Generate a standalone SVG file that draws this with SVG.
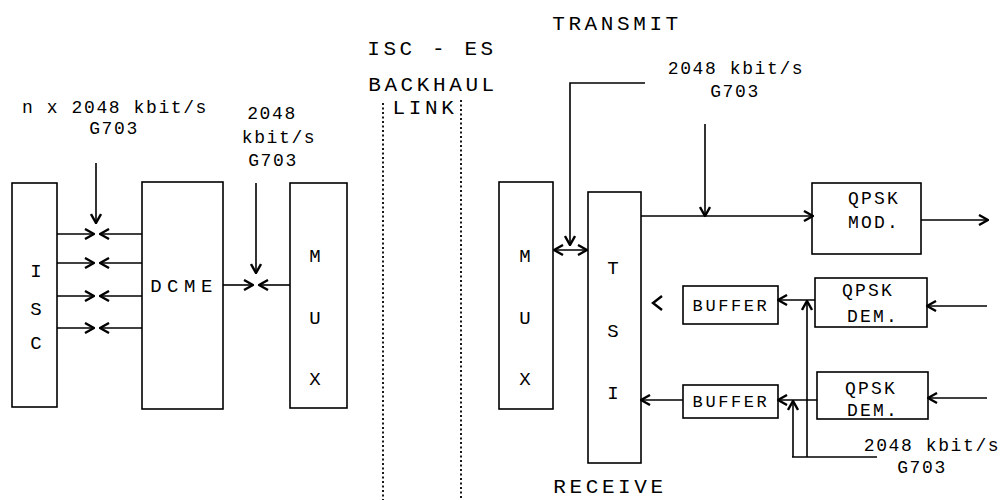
<svg xmlns="http://www.w3.org/2000/svg" width="1006" height="500" viewBox="0 0 1006 500">
<style>
text{font-family:"Liberation Mono","DejaVu Sans Mono",monospace;fill:#000;text-anchor:middle}
.s{font-size:18px;letter-spacing:1.6px}
.L{font-size:21px;letter-spacing:3.6px}
.b{font-size:19px}
.buf{font-size:17px;letter-spacing:2.6px}
.q{font-size:18px;letter-spacing:2.2px}
rect{fill:#fff;stroke:#000;stroke-width:1.6}
.c path{fill:none;stroke:#000;stroke-width:1.6}
.dot{fill:none;stroke:#000;stroke-width:1.8;stroke-dasharray:2 2.5}
</style>
<defs>
<marker id="a" viewBox="0 0 12 12" refX="11" refY="6" markerWidth="12" markerHeight="12" orient="auto-start-reverse" markerUnits="userSpaceOnUse">
<path d="M2,1 L11,6 L2,11" fill="none" stroke="#000" stroke-width="2.4"/>
</marker>
</defs>
<rect width="1006" height="500" style="fill:#fff;stroke:none"/>

<g id="labels">
<text class="s" x="115" y="113">n x 2048 kbit/s</text>
<text class="s" x="114" y="134">G703</text>
<text class="s" x="272" y="119">2048</text>
<text class="s" x="279" y="143">kbit/s</text>
<text class="s" x="273" y="166">G703</text>
<text class="L" x="432" y="55">ISC - ES</text>
<text class="L" x="433" y="91">BACKHAUL</text>
<text class="L" x="425" y="114">LINK</text>
<text class="L" x="617" y="30">TRANSMIT</text>
<text class="L" x="610" y="493">RECEIVE</text>
<text class="s" x="736" y="74">2048 kbit/s</text>
<text class="s" x="735" y="97">G703</text>
<text class="s" x="932" y="451">2048 kbit/s</text>
<text class="s" x="922" y="473">G703</text>
</g>

<g id="boundary">
<path class="dot" d="M383,103 V500"/>
<path class="dot" d="M461,100 V500"/>
</g>

<g id="isc"><rect x="12" y="183" width="45" height="224"/>
<text class="b" x="36" y="277">I</text><text class="b" x="36" y="315">S</text><text class="b" x="36" y="349">C</text></g>
<g id="dcme"><rect x="142" y="182" width="81" height="227"/>
<text class="b" x="184" y="292" style="letter-spacing:5.5px">DCME</text></g>
<g id="mux1"><rect x="290" y="183" width="57" height="225"/>
<text class="b" x="315" y="262">M</text><text class="b" x="315" y="324">U</text><text class="b" x="315" y="385">X</text></g>
<g id="mux2"><rect x="499" y="182" width="54" height="227"/>
<text class="b" x="525" y="262">M</text><text class="b" x="525" y="324">U</text><text class="b" x="525" y="385">X</text></g>
<g id="tsi"><rect x="588" y="192" width="53" height="271"/>
<text class="b" x="613" y="274">T</text><text class="b" x="613" y="337">S</text><text class="b" x="613" y="399">I</text></g>
<g id="buffer1"><rect x="683" y="286" width="95" height="38"/>
<text class="buf" x="731" y="311">BUFFER</text></g>
<g id="buffer2"><rect x="683" y="385" width="95" height="33"/>
<text class="buf" x="731" y="407">BUFFER</text></g>
<g id="qpskmod"><rect x="812" y="183" width="109" height="71"/>
<text class="q" x="874" y="204">QPSK</text><text class="q" x="874" y="228">MOD.</text></g>
<g id="qpskdem1"><rect x="815" y="278" width="112" height="49"/>
<text class="q" x="868" y="296">QPSK</text><text class="q" x="873" y="322">DEM.</text></g>
<g id="qpskdem2"><rect x="817" y="372" width="111" height="47"/>
<text class="q" x="871" y="394">QPSK</text><text class="q" x="873" y="416">DEM.</text></g>

<g id="connectors" class="c">
<path d="M57,234 H94" marker-end="url(#a)"/>
<path d="M142,234 H100" marker-end="url(#a)"/>
<path d="M57,263 H94" marker-end="url(#a)"/>
<path d="M142,263 H100" marker-end="url(#a)"/>
<path d="M57,296 H94" marker-end="url(#a)"/>
<path d="M142,296 H100" marker-end="url(#a)"/>
<path d="M57,328 H94" marker-end="url(#a)"/>
<path d="M142,328 H100" marker-end="url(#a)"/>
<path d="M96,163 V223" marker-end="url(#a)"/>
<path d="M223,285 H253" marker-end="url(#a)"/>
<path d="M290,285 H259" marker-end="url(#a)"/>
<path d="M256,183 V273" marker-end="url(#a)"/>
<path d="M554,250 H587" marker-start="url(#a)" marker-end="url(#a)"/>
<path d="M645,83 H570 V245" marker-end="url(#a)"/>
<path d="M641,216 H813" marker-end="url(#a)"/>
<path d="M705,124 V216" marker-end="url(#a)"/>
<path d="M921,220 H988" marker-end="url(#a)"/>
<path d="M987,306 H927" marker-end="url(#a)"/>
<path d="M987,398 H928" marker-end="url(#a)"/>
<path d="M815,300 H778" marker-end="url(#a)"/>
<path d="M807,457 V301" marker-end="url(#a)"/>
<path d="M817,400 H778" marker-end="url(#a)"/>
<path d="M793,457 V401" marker-end="url(#a)"/>
<path d="M792,457 H877"/>
<path d="M683,400 H641" marker-end="url(#a)"/>
<path d="M662,296 L653,303 L662,310" style="stroke-width:2.4"/>
</g>
</svg>
